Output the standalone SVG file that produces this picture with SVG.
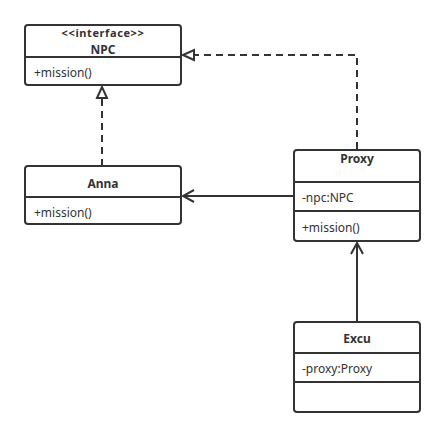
<svg xmlns="http://www.w3.org/2000/svg" width="446" height="437" viewBox="0 0 446 437">
<defs>
<style>
.box{fill:#fff;stroke:#333;stroke-width:2}
.div{stroke:#333;stroke-width:2}
.t{font-family:"Noto Sans","Open Sans",sans-serif;font-size:12px;fill:#333}
.s{font-size:11px}
.b{font-weight:bold;text-anchor:middle}
.c{fill:none;stroke:#333;stroke-width:2}
.d{stroke-dasharray:7 5}
</style>
<marker id="tri" markerWidth="14" markerHeight="14" refX="12" refY="6" orient="auto" markerUnits="userSpaceOnUse" viewBox="0 0 14 12">
<path d="M1,1 L12,6 L1,11 Z" fill="#fff" stroke="#333" stroke-width="2"/>
</marker>
<marker id="open" markerWidth="14" markerHeight="14" refX="12" refY="7" orient="auto" markerUnits="userSpaceOnUse" viewBox="0 0 14 14">
<path d="M1,1 L12,7 L1,13" fill="none" stroke="#333" stroke-width="2"/>
</marker>
</defs>
<rect width="446" height="437" fill="#fff"/>
<g id="connectors">
<path class="c d" d="M357,149 V55 H183" marker-end="url(#tri)"/>
<path class="c d" d="M102,166 V87" marker-end="url(#tri)"/>
<path class="c" d="M294,196 H183" marker-end="url(#open)"/>
<path class="c" d="M357,322 V243" marker-end="url(#open)"/>
</g>
<g id="NPC">
<rect class="box" x="25" y="25" width="156" height="60" rx="3"/>
<line class="div" x1="25" y1="57" x2="181" y2="57"/>
<text class="t s b" x="103" y="37" letter-spacing="0.6">&lt;&lt;interface&gt;&gt;</text>
<text class="t b" x="103" y="54">NPC</text>
<text class="t" x="34" y="77">+mission()</text>
</g>
<g id="Anna">
<rect class="box" x="25" y="166" width="156" height="58" rx="3"/>
<line class="div" x1="25" y1="197" x2="181" y2="197"/>
<text class="t b" x="103" y="188">Anna</text>
<text class="t" x="34" y="217">+mission()</text>
</g>
<g id="Proxy">
<rect class="box" x="294" y="150" width="126" height="91" rx="3"/>
<line class="div" x1="294" y1="182" x2="420" y2="182"/>
<line class="div" x1="294" y1="211" x2="420" y2="211"/>
<text class="t b" x="357" y="163">Proxy</text>
<text class="t" x="302" y="202">-npc:NPC</text>
<text class="t" x="302" y="232">+mission()</text>
</g>
<g id="Excu">
<rect class="box" x="294" y="322" width="126" height="90" rx="3"/>
<line class="div" x1="294" y1="353" x2="420" y2="353"/>
<line class="div" x1="294" y1="382" x2="420" y2="382"/>
<text class="t b" x="357" y="343">Excu</text>
<text class="t" x="302" y="373">-proxy:Proxy</text>
</g>
</svg>
